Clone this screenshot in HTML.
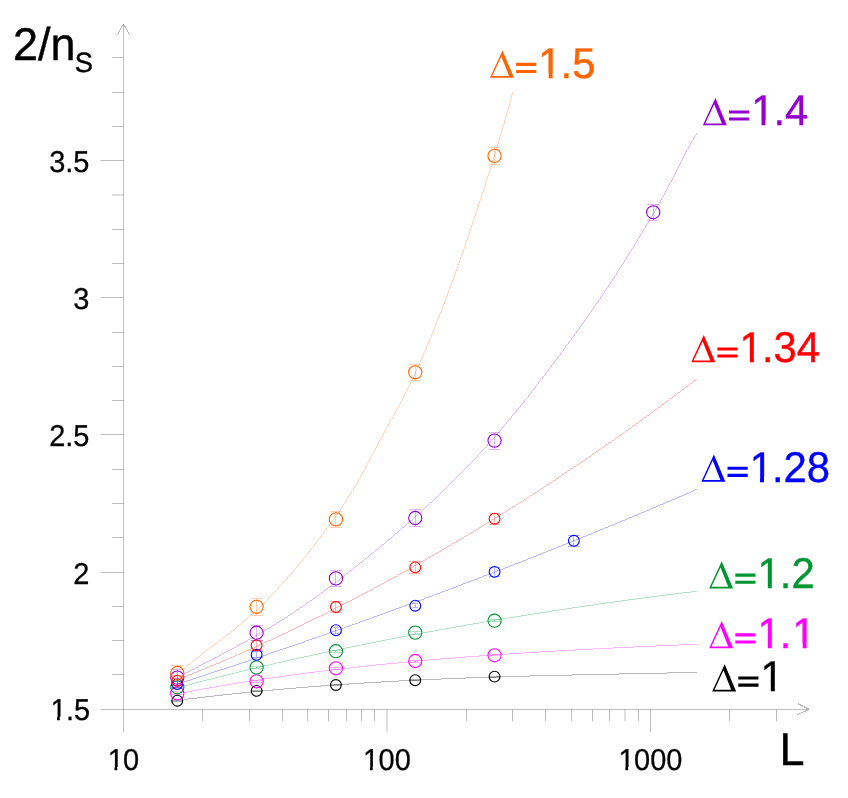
<!DOCTYPE html>
<html><head><meta charset="utf-8"><title>2/n_S vs L</title>
<style>
html,body{margin:0;padding:0;background:#fff;}
body{width:848px;height:798px;overflow:hidden;}
svg{display:block;will-change:transform;}
text{font-family:"Liberation Sans",sans-serif;text-rendering:geometricPrecision;}
</style></head><body>
<svg width="848" height="798" viewBox="0 0 848 798">
<rect width="848" height="798" fill="#fff"/>

<path stroke="#000" stroke-width="0.26" fill="none" d="M123.5,732 V24"/>
<path stroke="#000" stroke-width="1" stroke-opacity="0.28" fill="none" shape-rendering="crispEdges" d="M117.6,35 L122.7,25 M129.4,35 L124.3,25"/>
<rect x="123" y="24" width="1" height="1" fill="#000" fill-opacity="0.35"/>
<path stroke="#000" stroke-width="0.26" fill="none" d="M100.6,709.5 H808.6"/>
<path stroke="#000" stroke-width="1" stroke-opacity="0.28" fill="none" shape-rendering="crispEdges" d="M797.6,703.5 L809.4,709.5 M797.2,714.7 L808.6,709.6"/>
<path stroke="#000" stroke-width="0.26" fill="none" d="M112,674.5 H123.5"/>
<path stroke="#000" stroke-width="0.26" fill="none" d="M112,640.5 H123.5"/>
<path stroke="#000" stroke-width="0.26" fill="none" d="M112,606.5 H123.5"/>
<path stroke="#000" stroke-width="0.26" fill="none" d="M100.6,572.5 H123.5"/>
<path stroke="#000" stroke-width="0.26" fill="none" d="M112,537.5 H123.5"/>
<path stroke="#000" stroke-width="0.26" fill="none" d="M112,503.5 H123.5"/>
<path stroke="#000" stroke-width="0.26" fill="none" d="M112,469.5 H123.5"/>
<path stroke="#000" stroke-width="0.26" fill="none" d="M100.6,434.5 H123.5"/>
<path stroke="#000" stroke-width="0.26" fill="none" d="M112,400.5 H123.5"/>
<path stroke="#000" stroke-width="0.26" fill="none" d="M112,366.5 H123.5"/>
<path stroke="#000" stroke-width="0.26" fill="none" d="M112,332.5 H123.5"/>
<path stroke="#000" stroke-width="0.26" fill="none" d="M100.6,297.5 H123.5"/>
<path stroke="#000" stroke-width="0.26" fill="none" d="M112,263.5 H123.5"/>
<path stroke="#000" stroke-width="0.26" fill="none" d="M112,229.5 H123.5"/>
<path stroke="#000" stroke-width="0.26" fill="none" d="M112,195.0 H123.5"/>
<path stroke="#000" stroke-width="0.26" fill="none" d="M100.6,160.5 H123.5"/>
<path stroke="#000" stroke-width="0.26" fill="none" d="M112,126.5 H123.5"/>
<path stroke="#000" stroke-width="0.26" fill="none" d="M112,92.5 H123.5"/>
<path stroke="#000" stroke-width="0.26" fill="none" d="M112,57.5 H123.5"/>
<path stroke="#000" stroke-width="0.26" fill="none" d="M202.50,709.5 V721"/>
<path stroke="#000" stroke-width="0.26" fill="none" d="M249.50,709.5 V721"/>
<path stroke="#000" stroke-width="0.26" fill="none" d="M282.50,709.5 V721"/>
<path stroke="#000" stroke-width="0.26" fill="none" d="M307.50,709.5 V721"/>
<path stroke="#000" stroke-width="0.26" fill="none" d="M328.50,709.5 V721"/>
<path stroke="#000" stroke-width="0.26" fill="none" d="M346.50,709.5 V721"/>
<path stroke="#000" stroke-width="0.26" fill="none" d="M361.50,709.5 V721"/>
<path stroke="#000" stroke-width="0.26" fill="none" d="M374.50,709.5 V721"/>
<path stroke="#000" stroke-width="0.26" fill="none" d="M387.00,709.5 V732"/>
<path stroke="#000" stroke-width="0.26" fill="none" d="M466.50,709.5 V721"/>
<path stroke="#000" stroke-width="0.26" fill="none" d="M512.50,709.5 V721"/>
<path stroke="#000" stroke-width="0.26" fill="none" d="M545.50,709.5 V721"/>
<path stroke="#000" stroke-width="0.26" fill="none" d="M571.50,709.5 V721"/>
<path stroke="#000" stroke-width="0.26" fill="none" d="M592.50,709.5 V721"/>
<path stroke="#000" stroke-width="0.26" fill="none" d="M609.50,709.5 V721"/>
<path stroke="#000" stroke-width="0.26" fill="none" d="M625.00,709.5 V721"/>
<path stroke="#000" stroke-width="0.26" fill="none" d="M638.50,709.5 V721"/>
<path stroke="#000" stroke-width="0.26" fill="none" d="M650.50,709.5 V732"/>
<path stroke="#000" stroke-width="0.26" fill="none" d="M729.50,709.5 V721"/>
<path stroke="#000" stroke-width="0.26" fill="none" d="M776.50,709.5 V721"/>
<text transform="translate(89.50,171.50) scale(1,1.04)" font-size="29.0" text-anchor="end" fill="#000" stroke="#000" stroke-width="0.26">3.5</text>
<text transform="translate(89.50,308.50) scale(1,1.04)" font-size="29.0" text-anchor="end" fill="#000" stroke="#000" stroke-width="0.26">3</text>
<text transform="translate(89.50,445.50) scale(1,1.04)" font-size="29.0" text-anchor="end" fill="#000" stroke="#000" stroke-width="0.26">2.5</text>
<text transform="translate(89.50,583.50) scale(1,1.04)" font-size="29.0" text-anchor="end" fill="#000" stroke="#000" stroke-width="0.26">2</text>
<text transform="translate(89.50,720.00) scale(1,1.04)" font-size="29.0" text-anchor="end" fill="#000" stroke="#000" stroke-width="0.26"><tspan dx="0.64">1</tspan><tspan dx="-0.64">.5</tspan></text><rect x="50.99" y="716.54" width="6.03" height="5.16" fill="#fff"/><rect x="59.77" y="716.54" width="6.15" height="5.16" fill="#fff"/>
<text transform="translate(122.80,770.40) scale(1,1.04)" font-size="29.0" text-anchor="middle" fill="#000" stroke="#000" stroke-width="0.26"><tspan dx="0.64">1</tspan><tspan dx="-0.64">0</tspan></text><rect x="108.47" y="766.94" width="6.03" height="5.16" fill="#fff"/><rect x="117.26" y="766.94" width="6.15" height="5.16" fill="#fff"/>
<text transform="translate(386.30,770.40) scale(1,1.04)" font-size="29.0" text-anchor="middle" fill="#000" stroke="#000" stroke-width="0.26"><tspan dx="0.64">1</tspan><tspan dx="-0.64">00</tspan></text><rect x="363.91" y="766.94" width="6.03" height="5.16" fill="#fff"/><rect x="372.70" y="766.94" width="6.15" height="5.16" fill="#fff"/>
<text transform="translate(649.80,770.40) scale(1,1.04)" font-size="29.0" text-anchor="middle" fill="#000" stroke="#000" stroke-width="0.26"><tspan dx="0.64">1</tspan><tspan dx="-0.64">000</tspan></text><rect x="619.35" y="766.94" width="6.03" height="5.16" fill="#fff"/><rect x="628.14" y="766.94" width="6.15" height="5.16" fill="#fff"/>
<text transform="translate(13.00,60.20) scale(1,1.02)" font-size="45" text-anchor="start" fill="#000" stroke="#000" stroke-width="0.40">2/n<tspan font-size="27.3" dy="11.4" dx="-0.8">S</tspan></text>
<text transform="translate(779.60,765.10) scale(1,1.02)" font-size="45" text-anchor="start" fill="#000" stroke="#000" stroke-width="0.40">L</text>
<path d="M184.20,699.02 L188.15,698.54 L192.11,698.06 L196.06,697.58 L200.01,697.11 L203.97,696.65 L207.92,696.20 L211.88,695.74 L215.84,695.30 L219.80,694.86 L223.75,694.42 L227.71,694.00 L231.67,693.57 L235.63,693.16 L239.59,692.74 L243.55,692.34 L247.52,691.94 L251.48,691.54 L255.44,691.15 L259.40,690.77 L263.37,690.39 L267.33,690.02 L271.30,689.65 L275.26,689.29 L279.23,688.93 L283.20,688.58 L287.16,688.23 L291.13,687.89 L295.10,687.56 L299.07,687.22 L303.04,686.90 L307.00,686.58 L310.97,686.26 L314.94,685.95 L318.91,685.65 L322.88,685.35 L326.86,685.05 L330.83,684.76 L334.80,684.48 L338.77,684.20 L342.74,683.92 L346.72,683.65 L350.69,683.39 L354.66,683.13 L358.64,682.87 L362.61,682.62 L366.59,682.37 L370.56,682.13 L374.53,681.89 L378.51,681.65 L382.49,681.42 L386.46,681.20 L390.44,680.98 L394.41,680.76 L398.39,680.55 L402.37,680.34 L406.34,680.14 L410.32,679.94 L414.30,679.74 L418.27,679.55 L422.25,679.36 L426.23,679.18 L430.21,679.00 L434.19,678.82 L438.16,678.65 L442.14,678.48 L446.12,678.31 L450.10,678.15 L454.08,677.99 L458.06,677.83 L462.04,677.68 L466.02,677.53 L469.99,677.38 L473.97,677.24 L477.95,677.10 L481.93,676.96 L485.91,676.83 L489.89,676.70 L493.87,676.57 L497.85,676.44 L501.83,676.32 L505.81,676.20 L509.79,676.08 L513.77,675.97 L517.75,675.85 L521.73,675.74 L525.72,675.63 L529.70,675.53 L533.68,675.42 L537.66,675.32 L541.64,675.22 L545.62,675.12 L549.60,675.02 L553.58,674.92 L557.56,674.83 L561.54,674.74 L565.52,674.65 L569.50,674.55 L573.49,674.47 L577.47,674.38 L581.45,674.29 L585.43,674.21 L589.41,674.12 L593.39,674.04 L597.37,673.95 L601.35,673.87 L605.33,673.79 L609.32,673.71 L613.30,673.63 L617.28,673.55 L621.26,673.46 L625.24,673.38 L629.22,673.30 L633.20,673.22 L637.18,673.14 L641.17,673.06 L645.15,672.98 L649.13,672.90 L653.11,672.81 L657.09,672.73 L661.07,672.64 L665.05,672.56 L669.03,672.47 L673.01,672.39 L677.00,672.30 L680.98,672.21 L684.96,672.12 L688.94,672.02 L692.92,671.93 L696.90,671.83 L696.90,672.83 L692.92,672.93 L688.94,673.02 L684.96,673.12 L680.98,673.21 L677.00,673.30 L673.01,673.39 L669.03,673.47 L665.05,673.56 L661.07,673.64 L657.09,673.73 L653.11,673.81 L649.13,673.90 L645.15,673.98 L641.17,674.06 L637.18,674.14 L633.20,674.22 L629.22,674.30 L625.24,674.38 L621.26,674.46 L617.28,674.55 L613.30,674.63 L609.32,674.71 L605.33,674.79 L601.35,674.87 L597.37,674.95 L593.39,675.04 L589.41,675.12 L585.43,675.21 L581.45,675.29 L577.47,675.38 L573.49,675.47 L569.50,675.55 L565.52,675.65 L561.54,675.74 L557.56,675.83 L553.58,675.92 L549.60,676.02 L545.62,676.12 L541.64,676.22 L537.66,676.32 L533.68,676.42 L529.70,676.53 L525.72,676.63 L521.73,676.74 L517.75,676.85 L513.77,676.97 L509.79,677.08 L505.81,677.20 L501.83,677.32 L497.85,677.44 L493.87,677.57 L489.89,677.70 L485.91,677.83 L481.93,677.96 L477.95,678.10 L473.97,678.24 L469.99,678.38 L466.02,678.53 L462.04,678.68 L458.06,678.83 L454.08,678.99 L450.10,679.15 L446.12,679.31 L442.14,679.48 L438.16,679.65 L434.19,679.82 L430.21,680.00 L426.23,680.18 L422.25,680.36 L418.27,680.55 L414.30,680.74 L410.32,680.94 L406.34,681.14 L402.37,681.34 L398.39,681.55 L394.41,681.76 L390.44,681.98 L386.46,682.20 L382.49,682.42 L378.51,682.65 L374.53,682.89 L370.56,683.13 L366.59,683.37 L362.61,683.62 L358.64,683.87 L354.66,684.13 L350.69,684.39 L346.72,684.65 L342.74,684.92 L338.77,685.20 L334.80,685.48 L330.83,685.76 L326.86,686.05 L322.88,686.35 L318.91,686.65 L314.94,686.95 L310.97,687.26 L307.00,687.58 L303.04,687.90 L299.07,688.22 L295.10,688.56 L291.13,688.89 L287.16,689.23 L283.20,689.58 L279.23,689.93 L275.26,690.29 L271.30,690.65 L267.33,691.02 L263.37,691.39 L259.40,691.77 L255.44,692.15 L251.48,692.54 L247.52,692.94 L243.55,693.34 L239.59,693.74 L235.63,694.16 L231.67,694.57 L227.71,695.00 L223.75,695.42 L219.80,695.86 L215.84,696.30 L211.88,696.74 L207.92,697.20 L203.97,697.65 L200.01,698.11 L196.06,698.58 L192.11,699.06 L188.15,699.54 L184.20,700.02Z" fill="#000000" fill-opacity="0.28" stroke="none" shape-rendering="crispEdges"/>
<path d="M184.20,692.04 L188.13,691.30 L192.05,690.56 L195.98,689.83 L199.91,689.11 L203.84,688.40 L207.78,687.70 L211.71,687.01 L215.65,686.32 L219.59,685.64 L223.53,684.97 L227.47,684.31 L231.41,683.65 L235.35,683.01 L239.29,682.37 L243.24,681.74 L247.19,681.11 L251.13,680.50 L255.08,679.89 L259.03,679.29 L262.99,678.69 L266.94,678.11 L270.89,677.53 L274.85,676.95 L278.80,676.39 L282.76,675.83 L286.71,675.28 L290.67,674.73 L294.63,674.20 L298.59,673.66 L302.55,673.14 L306.52,672.62 L310.48,672.11 L314.44,671.61 L318.41,671.11 L322.37,670.62 L326.34,670.13 L330.30,669.65 L334.27,669.18 L338.24,668.71 L342.21,668.25 L346.18,667.79 L350.15,667.34 L354.12,666.90 L358.09,666.46 L362.06,666.03 L366.04,665.60 L370.01,665.18 L373.98,664.76 L377.96,664.35 L381.93,663.94 L385.91,663.54 L389.89,663.15 L393.86,662.76 L397.84,662.38 L401.82,662.00 L405.80,661.62 L409.77,661.25 L413.75,660.89 L417.73,660.53 L421.71,660.17 L425.69,659.82 L429.67,659.47 L433.65,659.13 L437.64,658.79 L441.62,658.46 L445.60,658.13 L449.58,657.81 L453.56,657.49 L457.55,657.17 L461.53,656.86 L465.52,656.55 L469.50,656.25 L473.48,655.95 L477.47,655.65 L481.45,655.36 L485.44,655.07 L489.42,654.79 L493.41,654.51 L497.40,654.23 L501.38,653.95 L505.37,653.68 L509.36,653.42 L513.34,653.15 L517.33,652.89 L521.32,652.64 L525.30,652.38 L529.29,652.13 L533.28,651.88 L537.27,651.64 L541.26,651.40 L545.25,651.16 L549.23,650.92 L553.22,650.69 L557.21,650.46 L561.20,650.23 L565.19,650.01 L569.18,649.78 L573.17,649.56 L577.16,649.35 L581.15,649.13 L585.14,648.92 L589.13,648.71 L593.12,648.50 L597.11,648.30 L601.10,648.09 L605.09,647.89 L609.08,647.69 L613.07,647.50 L617.06,647.30 L621.06,647.11 L625.05,646.92 L629.04,646.73 L633.03,646.54 L637.02,646.36 L641.01,646.18 L645.00,645.99 L649.00,645.81 L652.99,645.64 L656.98,645.46 L660.97,645.28 L664.96,645.11 L668.95,644.94 L672.95,644.77 L676.94,644.60 L680.93,644.43 L684.92,644.27 L688.92,644.10 L692.91,643.94 L696.90,643.77 L696.90,644.77 L692.91,644.94 L688.92,645.10 L684.92,645.27 L680.93,645.43 L676.94,645.60 L672.95,645.77 L668.95,645.94 L664.96,646.11 L660.97,646.28 L656.98,646.46 L652.99,646.64 L649.00,646.81 L645.00,646.99 L641.01,647.18 L637.02,647.36 L633.03,647.54 L629.04,647.73 L625.05,647.92 L621.06,648.11 L617.06,648.30 L613.07,648.50 L609.08,648.69 L605.09,648.89 L601.10,649.09 L597.11,649.30 L593.12,649.50 L589.13,649.71 L585.14,649.92 L581.15,650.13 L577.16,650.35 L573.17,650.56 L569.18,650.78 L565.19,651.01 L561.20,651.23 L557.21,651.46 L553.22,651.69 L549.23,651.92 L545.25,652.16 L541.26,652.40 L537.27,652.64 L533.28,652.88 L529.29,653.13 L525.30,653.38 L521.32,653.64 L517.33,653.89 L513.34,654.15 L509.36,654.42 L505.37,654.68 L501.38,654.95 L497.40,655.23 L493.41,655.51 L489.42,655.79 L485.44,656.07 L481.45,656.36 L477.47,656.65 L473.48,656.95 L469.50,657.25 L465.52,657.55 L461.53,657.86 L457.55,658.17 L453.56,658.49 L449.58,658.81 L445.60,659.13 L441.62,659.46 L437.64,659.79 L433.65,660.13 L429.67,660.47 L425.69,660.82 L421.71,661.17 L417.73,661.53 L413.75,661.89 L409.77,662.25 L405.80,662.62 L401.82,663.00 L397.84,663.38 L393.86,663.76 L389.89,664.15 L385.91,664.54 L381.93,664.94 L377.96,665.35 L373.98,665.76 L370.01,666.18 L366.04,666.60 L362.06,667.03 L358.09,667.46 L354.12,667.90 L350.15,668.34 L346.18,668.79 L342.21,669.25 L338.24,669.71 L334.27,670.18 L330.30,670.65 L326.34,671.13 L322.37,671.62 L318.41,672.11 L314.44,672.61 L310.48,673.11 L306.52,673.62 L302.55,674.14 L298.59,674.66 L294.63,675.20 L290.67,675.73 L286.71,676.28 L282.76,676.83 L278.80,677.39 L274.85,677.95 L270.89,678.53 L266.94,679.11 L262.99,679.69 L259.03,680.29 L255.08,680.89 L251.13,681.50 L247.19,682.11 L243.24,682.74 L239.29,683.37 L235.35,684.01 L231.41,684.65 L227.47,685.31 L223.53,685.97 L219.59,686.64 L215.65,687.32 L211.71,688.01 L207.78,688.70 L203.84,689.40 L199.91,690.11 L195.98,690.83 L192.05,691.56 L188.13,692.30 L184.20,693.04Z" fill="#ff00ff" fill-opacity="0.28" stroke="none" shape-rendering="crispEdges"/>
<path d="M184.20,685.45 L188.05,684.43 L191.90,683.42 L195.75,682.41 L199.61,681.41 L203.47,680.41 L207.32,679.42 L211.18,678.44 L215.04,677.46 L218.91,676.48 L222.77,675.52 L226.64,674.56 L230.50,673.60 L234.37,672.65 L238.24,671.71 L242.11,670.77 L245.98,669.83 L249.86,668.90 L253.73,667.98 L257.61,667.06 L261.48,666.15 L265.36,665.25 L269.24,664.34 L273.12,663.45 L277.00,662.56 L280.89,661.67 L284.77,660.79 L288.66,659.91 L292.54,659.04 L296.43,658.17 L300.32,657.31 L304.21,656.46 L308.10,655.60 L311.99,654.76 L315.88,653.91 L319.78,653.07 L323.67,652.24 L327.57,651.41 L331.47,650.59 L335.36,649.77 L339.26,648.95 L343.16,648.14 L347.06,647.33 L350.96,646.53 L354.87,645.73 L358.77,644.94 L362.67,644.15 L366.58,643.36 L370.48,642.58 L374.39,641.80 L378.30,641.03 L382.20,640.26 L386.11,639.49 L390.02,638.73 L393.93,637.97 L397.84,637.22 L401.76,636.47 L405.67,635.73 L409.58,634.99 L413.50,634.25 L417.41,633.51 L421.33,632.78 L425.24,632.06 L429.16,631.33 L433.08,630.62 L437.00,629.90 L440.91,629.19 L444.83,628.48 L448.75,627.78 L452.68,627.08 L456.60,626.38 L460.52,625.69 L464.44,625.00 L468.37,624.31 L472.29,623.63 L476.21,622.95 L480.14,622.28 L484.07,621.61 L487.99,620.94 L491.92,620.28 L495.85,619.62 L499.78,618.96 L503.71,618.30 L507.63,617.65 L511.56,617.01 L515.50,616.37 L519.43,615.73 L523.36,615.09 L527.29,614.46 L531.22,613.83 L535.16,613.20 L539.09,612.58 L543.03,611.96 L546.96,611.35 L550.90,610.74 L554.83,610.13 L558.77,609.53 L562.71,608.93 L566.65,608.33 L570.59,607.74 L574.53,607.15 L578.46,606.56 L582.40,605.98 L586.35,605.40 L590.29,604.83 L594.23,604.26 L598.17,603.69 L602.11,603.12 L606.06,602.56 L610.00,602.01 L613.95,601.45 L617.89,600.90 L621.84,600.36 L625.78,599.82 L629.73,599.28 L633.68,598.75 L637.62,598.22 L641.57,597.69 L645.52,597.17 L649.47,596.65 L653.42,596.14 L657.37,595.63 L661.32,595.12 L665.27,594.62 L669.22,594.12 L673.18,593.63 L677.13,593.14 L681.08,592.65 L685.04,592.17 L688.99,591.69 L692.94,591.22 L696.90,590.75 L696.90,591.75 L692.94,592.22 L688.99,592.69 L685.04,593.17 L681.08,593.65 L677.13,594.14 L673.18,594.63 L669.22,595.12 L665.27,595.62 L661.32,596.12 L657.37,596.63 L653.42,597.14 L649.47,597.65 L645.52,598.17 L641.57,598.69 L637.62,599.22 L633.68,599.75 L629.73,600.28 L625.78,600.82 L621.84,601.36 L617.89,601.90 L613.95,602.45 L610.00,603.01 L606.06,603.56 L602.11,604.12 L598.17,604.69 L594.23,605.26 L590.29,605.83 L586.35,606.40 L582.40,606.98 L578.46,607.56 L574.53,608.15 L570.59,608.74 L566.65,609.33 L562.71,609.93 L558.77,610.53 L554.83,611.13 L550.90,611.74 L546.96,612.35 L543.03,612.96 L539.09,613.58 L535.16,614.20 L531.22,614.83 L527.29,615.46 L523.36,616.09 L519.43,616.73 L515.50,617.37 L511.56,618.01 L507.63,618.65 L503.71,619.30 L499.78,619.96 L495.85,620.62 L491.92,621.28 L487.99,621.94 L484.07,622.61 L480.14,623.28 L476.21,623.95 L472.29,624.63 L468.37,625.31 L464.44,626.00 L460.52,626.69 L456.60,627.38 L452.68,628.08 L448.75,628.78 L444.83,629.48 L440.91,630.19 L437.00,630.90 L433.08,631.62 L429.16,632.33 L425.24,633.06 L421.33,633.78 L417.41,634.51 L413.50,635.25 L409.58,635.99 L405.67,636.73 L401.76,637.47 L397.84,638.22 L393.93,638.97 L390.02,639.73 L386.11,640.49 L382.20,641.26 L378.30,642.03 L374.39,642.80 L370.48,643.58 L366.58,644.36 L362.67,645.15 L358.77,645.94 L354.87,646.73 L350.96,647.53 L347.06,648.33 L343.16,649.14 L339.26,649.95 L335.36,650.77 L331.47,651.59 L327.57,652.41 L323.67,653.24 L319.78,654.07 L315.88,654.91 L311.99,655.76 L308.10,656.60 L304.21,657.46 L300.32,658.31 L296.43,659.17 L292.54,660.04 L288.66,660.91 L284.77,661.79 L280.89,662.67 L277.00,663.56 L273.12,664.45 L269.24,665.34 L265.36,666.25 L261.48,667.15 L257.61,668.06 L253.73,668.98 L249.86,669.90 L245.98,670.83 L242.11,671.77 L238.24,672.71 L234.37,673.65 L230.50,674.60 L226.64,675.56 L222.77,676.52 L218.91,677.48 L215.04,678.46 L211.18,679.44 L207.32,680.42 L203.47,681.41 L199.61,682.41 L195.75,683.41 L191.90,684.42 L188.05,685.43 L184.20,686.45Z" fill="#009632" fill-opacity="0.28" stroke="none" shape-rendering="crispEdges"/>
<path d="M184.20,681.27 L188.01,680.05 L191.81,678.83 L195.62,677.60 L199.42,676.37 L203.22,675.13 L207.03,673.90 L210.83,672.66 L214.63,671.42 L218.43,670.18 L222.23,668.93 L226.02,667.68 L229.82,666.43 L233.62,665.17 L237.41,663.92 L241.20,662.66 L245.00,661.39 L248.79,660.13 L252.58,658.86 L256.37,657.59 L260.16,656.31 L263.95,655.04 L267.74,653.76 L271.52,652.48 L275.31,651.19 L279.10,649.91 L282.88,648.62 L286.66,647.32 L290.44,646.03 L294.23,644.73 L298.01,643.43 L301.79,642.12 L305.56,640.82 L309.34,639.51 L313.12,638.20 L316.89,636.88 L320.67,635.57 L324.44,634.25 L328.22,632.93 L331.99,631.60 L335.76,630.27 L339.53,628.94 L343.30,627.61 L347.07,626.27 L350.83,624.94 L354.60,623.59 L358.36,622.25 L362.13,620.90 L365.89,619.56 L369.65,618.20 L373.42,616.85 L377.18,615.49 L380.94,614.13 L384.69,612.77 L388.45,611.41 L392.21,610.04 L395.96,608.67 L399.72,607.30 L403.47,605.92 L407.23,604.54 L410.98,603.16 L414.73,601.78 L418.48,600.39 L422.23,599.00 L425.98,597.61 L429.72,596.22 L433.47,594.82 L437.21,593.42 L440.96,592.02 L444.70,590.61 L448.44,589.21 L452.18,587.80 L455.92,586.38 L459.66,584.97 L463.40,583.55 L467.14,582.13 L470.87,580.71 L474.61,579.28 L478.34,577.85 L482.07,576.42 L485.81,574.99 L489.54,573.55 L493.27,572.11 L497.00,570.67 L500.72,569.23 L504.45,567.78 L508.18,566.33 L511.90,564.88 L515.63,563.43 L519.35,561.97 L523.07,560.51 L526.79,559.05 L530.51,557.58 L534.23,556.11 L537.95,554.64 L541.66,553.17 L545.38,551.69 L549.09,550.22 L552.81,548.74 L556.52,547.25 L560.23,545.77 L563.94,544.28 L567.65,542.79 L571.36,541.29 L575.07,539.80 L578.77,538.30 L582.48,536.80 L586.18,535.29 L589.88,533.78 L593.59,532.27 L597.29,530.76 L600.99,529.25 L604.69,527.73 L608.38,526.21 L612.08,524.69 L615.78,523.16 L619.47,521.63 L623.16,520.10 L626.86,518.57 L630.55,517.04 L634.24,515.50 L637.93,513.96 L641.61,512.41 L645.30,510.87 L648.99,509.32 L652.67,507.77 L656.35,506.21 L660.04,504.66 L663.72,503.10 L667.40,501.54 L671.08,499.97 L674.76,498.41 L678.43,496.84 L682.11,495.26 L685.78,493.69 L689.46,492.11 L693.13,490.53 L696.80,488.95 L696.80,489.95 L693.13,491.53 L689.46,493.11 L685.78,494.69 L682.11,496.26 L678.43,497.84 L674.76,499.41 L671.08,500.97 L667.40,502.54 L663.72,504.10 L660.04,505.66 L656.35,507.21 L652.67,508.77 L648.99,510.32 L645.30,511.87 L641.61,513.41 L637.93,514.96 L634.24,516.50 L630.55,518.04 L626.86,519.57 L623.16,521.10 L619.47,522.63 L615.78,524.16 L612.08,525.69 L608.38,527.21 L604.69,528.73 L600.99,530.25 L597.29,531.76 L593.59,533.27 L589.88,534.78 L586.18,536.29 L582.48,537.80 L578.77,539.30 L575.07,540.80 L571.36,542.29 L567.65,543.79 L563.94,545.28 L560.23,546.77 L556.52,548.25 L552.81,549.74 L549.09,551.22 L545.38,552.69 L541.66,554.17 L537.95,555.64 L534.23,557.11 L530.51,558.58 L526.79,560.05 L523.07,561.51 L519.35,562.97 L515.63,564.43 L511.90,565.88 L508.18,567.33 L504.45,568.78 L500.72,570.23 L497.00,571.67 L493.27,573.11 L489.54,574.55 L485.81,575.99 L482.07,577.42 L478.34,578.85 L474.61,580.28 L470.87,581.71 L467.14,583.13 L463.40,584.55 L459.66,585.97 L455.92,587.38 L452.18,588.80 L448.44,590.21 L444.70,591.61 L440.96,593.02 L437.21,594.42 L433.47,595.82 L429.72,597.22 L425.98,598.61 L422.23,600.00 L418.48,601.39 L414.73,602.78 L410.98,604.16 L407.23,605.54 L403.47,606.92 L399.72,608.30 L395.96,609.67 L392.21,611.04 L388.45,612.41 L384.69,613.77 L380.94,615.13 L377.18,616.49 L373.42,617.85 L369.65,619.20 L365.89,620.56 L362.13,621.90 L358.36,623.25 L354.60,624.59 L350.83,625.94 L347.07,627.27 L343.30,628.61 L339.53,629.94 L335.76,631.27 L331.99,632.60 L328.22,633.93 L324.44,635.25 L320.67,636.57 L316.89,637.88 L313.12,639.20 L309.34,640.51 L305.56,641.82 L301.79,643.12 L298.01,644.43 L294.23,645.73 L290.44,647.03 L286.66,648.32 L282.88,649.62 L279.10,650.91 L275.31,652.19 L271.52,653.48 L267.74,654.76 L263.95,656.04 L260.16,657.31 L256.37,658.59 L252.58,659.86 L248.79,661.13 L245.00,662.39 L241.20,663.66 L237.41,664.92 L233.62,666.17 L229.82,667.43 L226.02,668.68 L222.23,669.93 L218.43,671.18 L214.63,672.42 L210.83,673.66 L207.03,674.90 L203.22,676.13 L199.42,677.37 L195.62,678.60 L191.81,679.83 L188.01,681.05 L184.20,682.27Z" fill="#0000ff" fill-opacity="0.28" stroke="none" shape-rendering="crispEdges"/>
<path d="M184.20,676.54 L187.91,675.08 L191.62,673.60 L195.33,672.11 L199.03,670.62 L202.72,669.11 L206.42,667.60 L210.10,666.07 L213.79,664.54 L217.47,663.00 L221.15,661.44 L224.82,659.88 L228.49,658.31 L232.16,656.73 L235.82,655.14 L239.47,653.54 L243.13,651.94 L246.78,650.32 L250.42,648.70 L254.07,647.06 L257.70,645.42 L261.34,643.77 L264.97,642.12 L268.60,640.45 L272.22,638.77 L275.84,637.09 L279.45,635.40 L283.07,633.70 L286.67,631.99 L290.28,630.28 L293.88,628.56 L297.47,626.83 L301.07,625.09 L304.66,623.34 L308.24,621.59 L311.82,619.83 L315.40,618.06 L318.98,616.28 L322.55,614.50 L326.11,612.71 L329.68,610.91 L333.24,609.10 L336.79,607.29 L340.35,605.47 L343.90,603.65 L347.44,601.81 L350.98,599.97 L354.52,598.12 L358.05,596.27 L361.59,594.41 L365.11,592.54 L368.64,590.66 L372.16,588.78 L375.67,586.89 L379.19,585.00 L382.69,583.10 L386.20,581.19 L389.70,579.27 L393.20,577.35 L396.70,575.42 L400.19,573.49 L403.68,571.55 L407.16,569.60 L410.64,567.65 L414.12,565.69 L417.59,563.72 L421.06,561.75 L424.53,559.77 L427.99,557.79 L431.45,555.80 L434.91,553.80 L438.36,551.80 L441.81,549.79 L445.26,547.78 L448.70,545.76 L452.14,543.73 L455.57,541.70 L459.00,539.66 L462.43,537.62 L465.86,535.57 L469.28,533.51 L472.70,531.45 L476.11,529.38 L479.52,527.31 L482.93,525.23 L486.33,523.15 L489.73,521.06 L493.13,518.96 L496.52,516.86 L499.91,514.75 L503.30,512.64 L506.68,510.52 L510.06,508.40 L513.44,506.27 L516.81,504.13 L520.18,501.99 L523.54,499.85 L526.91,497.69 L530.26,495.54 L533.62,493.37 L536.97,491.21 L540.32,489.03 L543.66,486.85 L547.00,484.67 L550.34,482.48 L553.67,480.29 L557.00,478.09 L560.33,475.88 L563.65,473.67 L566.97,471.45 L570.29,469.23 L573.60,467.01 L576.91,464.78 L580.22,462.54 L583.52,460.30 L586.82,458.05 L590.11,455.80 L593.40,453.54 L596.69,451.27 L599.98,449.01 L603.26,446.73 L606.53,444.45 L609.81,442.17 L613.08,439.88 L616.34,437.59 L619.61,435.29 L622.86,432.98 L626.12,430.67 L629.37,428.36 L632.62,426.04 L635.86,423.71 L639.10,421.38 L642.34,419.05 L645.57,416.71 L648.80,414.36 L652.03,412.01 L655.25,409.65 L658.47,407.29 L661.68,404.93 L664.90,402.56 L668.10,400.18 L671.31,397.80 L674.51,395.42 L677.70,393.02 L680.90,390.63 L684.08,388.23 L687.27,385.82 L690.45,383.41 L693.63,380.99 L696.80,378.57 L696.80,379.57 L693.63,381.99 L690.45,384.41 L687.27,386.82 L684.08,389.23 L680.90,391.63 L677.70,394.02 L674.51,396.42 L671.31,398.80 L668.10,401.18 L664.90,403.56 L661.68,405.93 L658.47,408.29 L655.25,410.65 L652.03,413.01 L648.80,415.36 L645.57,417.71 L642.34,420.05 L639.10,422.38 L635.86,424.71 L632.62,427.04 L629.37,429.36 L626.12,431.67 L622.86,433.98 L619.61,436.29 L616.34,438.59 L613.08,440.88 L609.81,443.17 L606.53,445.45 L603.26,447.73 L599.98,450.01 L596.69,452.27 L593.40,454.54 L590.11,456.80 L586.82,459.05 L583.52,461.30 L580.22,463.54 L576.91,465.78 L573.60,468.01 L570.29,470.23 L566.97,472.45 L563.65,474.67 L560.33,476.88 L557.00,479.09 L553.67,481.29 L550.34,483.48 L547.00,485.67 L543.66,487.85 L540.32,490.03 L536.97,492.21 L533.62,494.37 L530.26,496.54 L526.91,498.69 L523.54,500.85 L520.18,502.99 L516.81,505.13 L513.44,507.27 L510.06,509.40 L506.68,511.52 L503.30,513.64 L499.91,515.75 L496.52,517.86 L493.13,519.96 L489.73,522.06 L486.33,524.15 L482.93,526.23 L479.52,528.31 L476.11,530.38 L472.70,532.45 L469.28,534.51 L465.86,536.57 L462.43,538.62 L459.00,540.66 L455.57,542.70 L452.14,544.73 L448.70,546.76 L445.26,548.78 L441.81,550.79 L438.36,552.80 L434.91,554.80 L431.45,556.80 L427.99,558.79 L424.53,560.77 L421.06,562.75 L417.59,564.72 L414.12,566.69 L410.64,568.65 L407.16,570.60 L403.68,572.55 L400.19,574.49 L396.70,576.42 L393.20,578.35 L389.70,580.27 L386.20,582.19 L382.69,584.10 L379.19,586.00 L375.67,587.89 L372.16,589.78 L368.64,591.66 L365.11,593.54 L361.59,595.41 L358.05,597.27 L354.52,599.12 L350.98,600.97 L347.44,602.81 L343.90,604.65 L340.35,606.47 L336.79,608.29 L333.24,610.10 L329.68,611.91 L326.11,613.71 L322.55,615.50 L318.98,617.28 L315.40,619.06 L311.82,620.83 L308.24,622.59 L304.66,624.34 L301.07,626.09 L297.47,627.83 L293.88,629.56 L290.28,631.28 L286.67,632.99 L283.07,634.70 L279.45,636.40 L275.84,638.09 L272.22,639.77 L268.60,641.45 L264.97,643.12 L261.34,644.77 L257.70,646.42 L254.07,648.06 L250.42,649.70 L246.78,651.32 L243.13,652.94 L239.47,654.54 L235.82,656.14 L232.16,657.73 L228.49,659.31 L224.82,660.88 L221.15,662.44 L217.47,664.00 L213.79,665.54 L210.10,667.07 L206.42,668.60 L202.72,670.11 L199.03,671.62 L195.33,673.11 L191.62,674.60 L187.91,676.08 L184.20,677.54Z" fill="#ff0000" fill-opacity="0.28" stroke="none" shape-rendering="crispEdges"/>
<path d="M184.20,673.59 L187.72,671.70 L191.24,669.83 L194.78,667.96 L198.31,666.10 L201.85,664.25 L205.40,662.41 L208.94,660.57 L212.48,658.73 L216.03,656.88 L219.57,655.03 L223.11,653.18 L226.64,651.32 L230.17,649.45 L233.69,647.56 L237.21,645.67 L240.72,643.76 L244.22,641.84 L247.71,639.90 L251.19,637.94 L254.67,635.97 L258.13,633.98 L261.58,631.97 L265.02,629.94 L268.45,627.89 L271.87,625.82 L275.27,623.73 L278.66,621.62 L282.04,619.49 L285.40,617.34 L288.76,615.17 L292.10,612.97 L295.42,610.76 L298.74,608.53 L302.04,606.28 L305.32,604.01 L308.60,601.73 L311.86,599.42 L315.11,597.10 L318.35,594.76 L321.58,592.41 L324.79,590.04 L328.00,587.65 L331.19,585.26 L334.38,582.85 L337.55,580.42 L340.72,577.99 L343.88,575.54 L347.03,573.08 L350.17,570.62 L353.30,568.14 L356.43,565.66 L359.55,563.17 L362.67,560.66 L365.77,558.15 L368.87,555.64 L371.97,553.11 L375.06,550.58 L378.14,548.04 L381.22,545.49 L384.29,542.93 L387.35,540.37 L390.40,537.80 L393.45,535.22 L396.50,532.63 L399.53,530.03 L402.56,527.43 L405.58,524.81 L408.59,522.19 L411.59,519.55 L414.58,516.91 L417.57,514.25 L420.54,511.59 L423.51,508.91 L426.46,506.22 L429.40,503.52 L432.33,500.80 L435.25,498.07 L438.15,495.33 L441.05,492.58 L443.93,489.81 L446.79,487.03 L449.65,484.24 L452.49,481.43 L454.82,479.11 L457.64,476.28 L460.44,473.43 L463.22,470.57 L466.00,467.70 L468.76,464.81 L471.51,461.91 L474.24,459.00 L476.96,456.07 L479.66,453.13 L482.36,450.18 L485.04,447.22 L487.70,444.24 L490.35,441.26 L492.99,438.26 L495.61,435.25 L498.23,432.22 L500.82,429.19 L503.41,426.15 L505.98,423.09 L508.55,420.03 L511.10,416.95 L513.63,413.87 L516.16,410.77 L518.68,407.67 L521.18,404.56 L523.68,401.44 L526.16,398.31 L528.63,395.18 L531.10,392.03 L533.55,388.88 L536.00,385.73 L538.44,382.56 L540.87,379.39 L543.29,376.22 L545.71,373.04 L548.12,369.85 L550.52,366.66 L552.92,363.46 L555.31,360.26 L557.69,357.06 L560.07,353.85 L562.44,350.64 L564.81,347.42 L567.18,344.20 L569.53,340.98 L571.89,337.75 L574.23,334.52 L576.57,331.28 L578.91,328.04 L581.23,324.79 L583.55,321.54 L585.87,318.28 L588.17,315.02 L590.47,311.75 L592.75,308.48 L595.03,305.20 L597.30,301.91 L599.56,298.61 L601.80,295.31 L604.04,292.00 L606.26,288.68 L608.47,285.35 L610.67,282.02 L612.86,278.68 L615.03,275.33 L617.19,271.97 L619.35,268.60 L621.49,265.23 L623.62,261.85 L625.75,258.47 L627.87,255.09 L629.97,251.69 L632.08,248.30 L634.17,244.90 L636.26,241.49 L638.34,238.08 L640.41,234.66 L642.47,231.24 L644.52,227.82 L646.57,224.38 L648.60,220.95 L650.62,217.50 L652.63,214.05 L654.62,210.59 L656.60,207.12 L658.57,203.64 L660.52,200.15 L662.45,196.66 L664.36,193.15 L666.26,189.64 L668.13,186.11 L669.99,182.57 L671.84,179.03 L673.67,175.48 L675.50,171.93 L677.31,168.37 L679.13,164.81 L680.94,161.26 L682.77,157.70 L684.60,154.15 L686.45,150.61 L688.32,147.09 L690.23,143.58 L692.19,140.10 L694.20,136.65 L696.30,133.25 L697.30,133.25 L695.20,136.65 L693.19,140.10 L691.23,143.58 L689.32,147.09 L687.45,150.61 L685.60,154.15 L683.77,157.70 L681.94,161.26 L680.13,164.81 L678.31,168.37 L676.50,171.93 L674.67,175.48 L672.84,179.03 L670.99,182.57 L669.13,186.11 L667.26,189.64 L665.36,193.15 L663.45,196.66 L661.52,200.15 L659.57,203.64 L657.60,207.12 L655.62,210.59 L653.63,214.05 L651.62,217.50 L649.60,220.95 L647.57,224.38 L645.52,227.82 L643.47,231.24 L641.41,234.66 L639.34,238.08 L637.26,241.49 L635.17,244.90 L633.08,248.30 L630.97,251.69 L628.87,255.09 L626.75,258.47 L624.62,261.85 L622.49,265.23 L620.35,268.60 L618.19,271.97 L616.03,275.33 L613.86,278.68 L611.67,282.02 L609.47,285.35 L607.26,288.68 L605.04,292.00 L602.80,295.31 L600.56,298.61 L598.30,301.91 L596.03,305.20 L593.75,308.48 L591.47,311.75 L589.17,315.02 L586.87,318.28 L584.55,321.54 L582.23,324.79 L579.91,328.04 L577.57,331.28 L575.23,334.52 L572.89,337.75 L570.53,340.98 L568.18,344.20 L565.81,347.42 L563.44,350.64 L561.07,353.85 L558.69,357.06 L556.31,360.26 L553.92,363.46 L551.52,366.66 L549.12,369.85 L546.71,373.04 L544.29,376.22 L541.87,379.39 L539.44,382.56 L537.00,385.73 L534.55,388.88 L532.10,392.03 L529.63,395.18 L527.16,398.31 L524.68,401.44 L522.18,404.56 L519.68,407.67 L517.16,410.77 L514.63,413.87 L512.10,416.95 L509.55,420.03 L506.98,423.09 L504.41,426.15 L501.82,429.19 L499.23,432.22 L496.61,435.25 L493.99,438.26 L491.35,441.26 L488.70,444.24 L486.04,447.22 L483.36,450.18 L480.66,453.13 L477.96,456.07 L475.24,459.00 L472.51,461.91 L469.76,464.81 L467.00,467.70 L464.22,470.57 L461.44,473.43 L458.64,476.28 L455.82,479.11 L452.49,482.43 L449.65,485.24 L446.79,488.03 L443.93,490.81 L441.05,493.58 L438.15,496.33 L435.25,499.07 L432.33,501.80 L429.40,504.52 L426.46,507.22 L423.51,509.91 L420.54,512.59 L417.57,515.25 L414.58,517.91 L411.59,520.55 L408.59,523.19 L405.58,525.81 L402.56,528.43 L399.53,531.03 L396.50,533.63 L393.45,536.22 L390.40,538.80 L387.35,541.37 L384.29,543.93 L381.22,546.49 L378.14,549.04 L375.06,551.58 L371.97,554.11 L368.87,556.64 L365.77,559.15 L362.67,561.66 L359.55,564.17 L356.43,566.66 L353.30,569.14 L350.17,571.62 L347.03,574.08 L343.88,576.54 L340.72,578.99 L337.55,581.42 L334.38,583.85 L331.19,586.26 L328.00,588.65 L324.79,591.04 L321.58,593.41 L318.35,595.76 L315.11,598.10 L311.86,600.42 L308.60,602.73 L305.32,605.01 L302.04,607.28 L298.74,609.53 L295.42,611.76 L292.10,613.97 L288.76,616.17 L285.40,618.34 L282.04,620.49 L278.66,622.62 L275.27,624.73 L271.87,626.82 L268.45,628.89 L265.02,630.94 L261.58,632.97 L258.13,634.98 L254.67,636.97 L251.19,638.94 L247.71,640.90 L244.22,642.84 L240.72,644.76 L237.21,646.67 L233.69,648.56 L230.17,650.45 L226.64,652.32 L223.11,654.18 L219.57,656.03 L216.03,657.88 L212.48,659.73 L208.94,661.57 L205.40,663.41 L201.85,665.25 L198.31,667.10 L194.78,668.96 L191.24,670.83 L187.72,672.70 L184.20,674.59Z" fill="#9400d0" fill-opacity="0.28" stroke="none" shape-rendering="crispEdges"/>
<path d="M184.20,668.14 L187.21,665.53 L190.26,662.96 L193.35,660.44 L196.46,657.95 L199.60,655.49 L202.76,653.06 L205.93,650.65 L209.12,648.25 L212.30,645.86 L215.49,643.46 L218.68,641.07 L221.85,638.66 L225.02,636.24 L228.17,633.80 L231.30,631.33 L234.42,628.84 L237.51,626.33 L240.58,623.79 L243.63,621.21 L246.64,618.61 L249.63,615.98 L252.60,613.31 L255.53,610.61 L258.44,607.89 L261.32,605.13 L264.17,602.35 L266.50,600.03 L269.30,597.19 L272.07,594.33 L274.81,591.44 L277.53,588.52 L280.22,585.59 L282.89,582.63 L285.54,579.65 L288.17,576.65 L290.77,573.63 L293.35,570.59 L295.91,567.53 L298.45,564.46 L300.98,561.38 L303.48,558.28 L305.97,555.17 L308.45,552.04 L310.91,548.91 L313.36,545.76 L315.79,542.60 L318.21,539.44 L320.62,536.26 L323.01,533.07 L325.39,529.87 L327.75,526.66 L330.10,523.44 L332.43,520.21 L334.73,516.96 L337.02,513.69 L339.28,510.41 L341.51,507.10 L343.72,503.78 L345.89,500.44 L348.03,497.08 L350.14,493.70 L352.21,490.29 L354.25,486.87 L356.26,483.42 L358.24,479.96 L360.19,476.49 L362.11,473.00 L364.01,469.49 L365.90,465.98 L367.77,462.46 L369.63,458.93 L371.48,455.41 L373.34,451.88 L375.19,448.35 L377.06,444.83 L378.94,441.31 L380.83,437.81 L382.74,434.31 L384.67,430.82 L386.61,427.33 L388.55,423.85 L390.50,420.38 L392.44,416.89 L394.36,413.40 L396.28,409.91 L398.17,406.40 L400.04,402.88 L401.89,399.35 L403.72,395.81 L405.52,392.25 L407.30,388.68 L409.05,385.10 L410.78,381.51 L412.48,377.91 L414.16,374.29 L415.83,370.67 L417.47,367.04 L419.09,363.40 L420.70,359.75 L422.30,356.10 L423.87,352.44 L425.44,348.77 L426.99,345.10 L428.52,341.42 L430.05,337.74 L431.56,334.05 L433.06,330.36 L434.55,326.66 L436.03,322.96 L437.49,319.25 L438.95,315.54 L440.40,311.83 L441.84,308.11 L443.26,304.39 L444.68,300.66 L446.09,296.93 L447.49,293.20 L448.88,289.46 L450.27,285.73 L451.64,281.99 L453.01,278.24 L454.37,274.49 L455.72,270.74 L457.07,266.99 L458.40,263.24 L459.73,259.48 L461.06,255.72 L462.37,251.96 L463.68,248.19 L464.99,244.43 L466.29,240.66 L467.58,236.89 L468.86,233.11 L470.14,229.34 L471.42,225.56 L472.69,221.78 L473.95,218.00 L475.21,214.22 L476.46,210.44 L477.71,206.65 L478.95,202.86 L480.18,199.07 L481.41,195.28 L482.64,191.49 L483.86,187.69 L485.07,183.90 L486.28,180.10 L487.49,176.30 L488.69,172.50 L489.88,168.69 L491.06,164.89 L492.24,161.08 L493.42,157.27 L494.59,153.46 L495.75,149.65 L496.91,145.83 L498.06,142.02 L499.20,138.20 L500.34,134.38 L501.47,130.56 L502.60,126.73 L503.71,122.91 L504.82,119.08 L505.93,115.25 L507.02,111.41 L508.11,107.58 L509.20,103.74 L510.27,99.91 L511.34,96.07 L512.40,92.22 L513.40,92.22 L512.34,96.07 L511.27,99.91 L510.20,103.74 L509.11,107.58 L508.02,111.41 L506.93,115.25 L505.82,119.08 L504.71,122.91 L503.60,126.73 L502.47,130.56 L501.34,134.38 L500.20,138.20 L499.06,142.02 L497.91,145.83 L496.75,149.65 L495.59,153.46 L494.42,157.27 L493.24,161.08 L492.06,164.89 L490.88,168.69 L489.69,172.50 L488.49,176.30 L487.28,180.10 L486.07,183.90 L484.86,187.69 L483.64,191.49 L482.41,195.28 L481.18,199.07 L479.95,202.86 L478.71,206.65 L477.46,210.44 L476.21,214.22 L474.95,218.00 L473.69,221.78 L472.42,225.56 L471.14,229.34 L469.86,233.11 L468.58,236.89 L467.29,240.66 L465.99,244.43 L464.68,248.19 L463.37,251.96 L462.06,255.72 L460.73,259.48 L459.40,263.24 L458.07,266.99 L456.72,270.74 L455.37,274.49 L454.01,278.24 L452.64,281.99 L451.27,285.73 L449.88,289.46 L448.49,293.20 L447.09,296.93 L445.68,300.66 L444.26,304.39 L442.84,308.11 L441.40,311.83 L439.95,315.54 L438.49,319.25 L437.03,322.96 L435.55,326.66 L434.06,330.36 L432.56,334.05 L431.05,337.74 L429.52,341.42 L427.99,345.10 L426.44,348.77 L424.87,352.44 L423.30,356.10 L421.70,359.75 L420.09,363.40 L418.47,367.04 L416.83,370.67 L415.16,374.29 L413.48,377.91 L411.78,381.51 L410.05,385.10 L408.30,388.68 L406.52,392.25 L404.72,395.81 L402.89,399.35 L401.04,402.88 L399.17,406.40 L397.28,409.91 L395.36,413.40 L393.44,416.89 L391.50,420.38 L389.55,423.85 L387.61,427.33 L385.67,430.82 L383.74,434.31 L381.83,437.81 L379.94,441.31 L378.06,444.83 L376.19,448.35 L374.34,451.88 L372.48,455.41 L370.63,458.93 L368.77,462.46 L366.90,465.98 L365.01,469.49 L363.11,473.00 L361.19,476.49 L359.24,479.96 L357.26,483.42 L355.25,486.87 L353.21,490.29 L351.14,493.70 L349.03,497.08 L346.89,500.44 L344.72,503.78 L342.51,507.10 L340.28,510.41 L338.02,513.69 L335.73,516.96 L333.43,520.21 L331.10,523.44 L328.75,526.66 L326.39,529.87 L324.01,533.07 L321.62,536.26 L319.21,539.44 L316.79,542.60 L314.36,545.76 L311.91,548.91 L309.45,552.04 L306.97,555.17 L304.48,558.28 L301.98,561.38 L299.45,564.46 L296.91,567.53 L294.35,570.59 L291.77,573.63 L289.17,576.65 L286.54,579.65 L283.89,582.63 L281.22,585.59 L278.53,588.52 L275.81,591.44 L273.07,594.33 L270.30,597.19 L267.50,600.03 L264.17,603.35 L261.32,606.13 L258.44,608.89 L255.53,611.61 L252.60,614.31 L249.63,616.98 L246.64,619.61 L243.63,622.21 L240.58,624.79 L237.51,627.33 L234.42,629.84 L231.30,632.33 L228.17,634.80 L225.02,637.24 L221.85,639.66 L218.68,642.07 L215.49,644.46 L212.30,646.86 L209.12,649.25 L205.93,651.65 L202.76,654.06 L199.60,656.49 L196.46,658.95 L193.35,661.44 L190.26,663.96 L187.21,666.53 L184.20,669.14Z" fill="#ff6400" fill-opacity="0.28" stroke="none" shape-rendering="crispEdges"/>
<g stroke="#000000" fill="none">
<path stroke-width="1" stroke-opacity="0.3" shape-rendering="crispEdges" d="M177.29,700.30 V701.10 M171.39,700.30 H183.19 M171.39,701.10 H183.19"/>
<circle cx="177.29" cy="700.70" r="5.4" stroke-width="1.1"/>
<path stroke-width="1" stroke-opacity="0.3" shape-rendering="crispEdges" d="M256.61,690.50 V691.30 M250.71,690.50 H262.51 M250.71,691.30 H262.51"/>
<circle cx="256.61" cy="690.90" r="5.4" stroke-width="1.1"/>
<path stroke-width="1" stroke-opacity="0.3" shape-rendering="crispEdges" d="M335.93,684.60 V685.40 M330.03,684.60 H341.83 M330.03,685.40 H341.83"/>
<circle cx="335.93" cy="685.00" r="5.4" stroke-width="1.1"/>
<path stroke-width="1" stroke-opacity="0.3" shape-rendering="crispEdges" d="M415.25,679.80 V680.60 M409.35,679.80 H421.15 M409.35,680.60 H421.15"/>
<circle cx="415.25" cy="680.20" r="5.4" stroke-width="1.1"/>
<path stroke-width="1" stroke-opacity="0.3" shape-rendering="crispEdges" d="M494.57,676.20 V677.00 M488.67,676.20 H500.47 M488.67,677.00 H500.47"/>
<circle cx="494.57" cy="676.60" r="5.4" stroke-width="1.1"/>
</g>
<g stroke="#ff00ff" fill="none">
<path stroke-width="1" stroke-opacity="0.3" shape-rendering="crispEdges" d="M177.29,691.90 V694.90 M171.39,691.90 H183.19 M171.39,694.90 H183.19"/>
<circle cx="177.29" cy="693.40" r="6.6" stroke-width="1.1"/>
<path stroke-width="1" stroke-opacity="0.3" shape-rendering="crispEdges" d="M256.61,680.30 V682.30 M250.71,680.30 H262.51 M250.71,682.30 H262.51"/>
<circle cx="256.61" cy="681.30" r="6.6" stroke-width="1.1"/>
<path stroke-width="1" stroke-opacity="0.3" shape-rendering="crispEdges" d="M335.93,667.30 V669.30 M330.03,667.30 H341.83 M330.03,669.30 H341.83"/>
<circle cx="335.93" cy="668.30" r="6.6" stroke-width="1.1"/>
<path stroke-width="1" stroke-opacity="0.3" shape-rendering="crispEdges" d="M415.25,660.00 V662.00 M409.35,660.00 H421.15 M409.35,662.00 H421.15"/>
<circle cx="415.25" cy="661.00" r="6.6" stroke-width="1.1"/>
<path stroke-width="1" stroke-opacity="0.3" shape-rendering="crispEdges" d="M494.57,654.70 V655.90 M488.67,654.70 H500.47 M488.67,655.90 H500.47"/>
<circle cx="494.57" cy="655.30" r="6.6" stroke-width="1.1"/>
</g>
<g stroke="#009632" fill="none">
<path stroke-width="1" stroke-opacity="0.3" shape-rendering="crispEdges" d="M177.29,685.80 V688.80 M171.39,685.80 H183.19 M171.39,688.80 H183.19"/>
<circle cx="177.29" cy="687.30" r="6.6" stroke-width="1.1"/>
<path stroke-width="1" stroke-opacity="0.3" shape-rendering="crispEdges" d="M256.61,666.30 V668.50 M250.71,666.30 H262.51 M250.71,668.50 H262.51"/>
<circle cx="256.61" cy="667.40" r="6.6" stroke-width="1.1"/>
<path stroke-width="1" stroke-opacity="0.3" shape-rendering="crispEdges" d="M335.93,650.10 V652.30 M330.03,650.10 H341.83 M330.03,652.30 H341.83"/>
<circle cx="335.93" cy="651.20" r="6.6" stroke-width="1.1"/>
<path stroke-width="1" stroke-opacity="0.3" shape-rendering="crispEdges" d="M415.25,631.20 V634.00 M409.35,631.20 H421.15 M409.35,634.00 H421.15"/>
<circle cx="415.25" cy="632.60" r="6.6" stroke-width="1.1"/>
<path stroke-width="1" stroke-opacity="0.3" shape-rendering="crispEdges" d="M494.57,619.90 V621.50 M488.67,619.90 H500.47 M488.67,621.50 H500.47"/>
<circle cx="494.57" cy="620.70" r="6.6" stroke-width="1.1"/>
</g>
<g stroke="#0000ff" fill="none">
<path stroke-width="1" stroke-opacity="0.3" shape-rendering="crispEdges" d="M177.29,681.10 V687.10 M171.39,681.10 H183.19 M171.39,687.10 H183.19"/>
<circle cx="177.29" cy="684.10" r="5.4" stroke-width="1.1"/>
<path stroke-width="1" stroke-opacity="0.3" shape-rendering="crispEdges" d="M256.61,651.90 V657.70 M250.71,651.90 H262.51 M250.71,657.70 H262.51"/>
<circle cx="256.61" cy="654.80" r="5.4" stroke-width="1.1"/>
<path stroke-width="1" stroke-opacity="0.3" shape-rendering="crispEdges" d="M335.93,627.20 V633.20 M333.03,627.20 H338.83 M333.03,633.20 H338.83"/>
<circle cx="335.93" cy="630.20" r="5.4" stroke-width="1.1"/>
<path stroke-width="1" stroke-opacity="0.3" shape-rendering="crispEdges" d="M415.25,603.50 V607.90 M412.85,603.50 H417.65 M412.85,607.90 H417.65"/>
<circle cx="415.25" cy="605.70" r="5.4" stroke-width="1.1"/>
<path stroke-width="1" stroke-opacity="0.3" shape-rendering="crispEdges" d="M494.57,567.30 V576.50 M488.67,567.30 H500.47 M488.67,576.50 H500.47"/>
<circle cx="494.57" cy="571.90" r="5.4" stroke-width="1.1"/>
<path stroke-width="1" stroke-opacity="0.3" shape-rendering="crispEdges" d="M573.89,535.15 V546.45 M567.99,535.15 H579.79 M567.99,546.45 H579.79"/>
<circle cx="573.89" cy="540.80" r="5.4" stroke-width="1.1"/>
</g>
<g stroke="#ff0000" fill="none">
<path stroke-width="1" stroke-opacity="0.3" shape-rendering="crispEdges" d="M177.29,675.90 V685.90 M171.39,675.90 H183.19 M171.39,685.90 H183.19"/>
<circle cx="177.29" cy="680.90" r="5.4" stroke-width="1.1"/>
<path stroke-width="1" stroke-opacity="0.3" shape-rendering="crispEdges" d="M256.61,640.20 V650.60 M250.71,640.20 H262.51 M250.71,650.60 H262.51"/>
<circle cx="256.61" cy="645.40" r="5.4" stroke-width="1.1"/>
<path stroke-width="1" stroke-opacity="0.3" shape-rendering="crispEdges" d="M335.93,601.35 V612.65 M330.03,601.35 H341.83 M330.03,612.65 H341.83"/>
<circle cx="335.93" cy="607.00" r="5.4" stroke-width="1.1"/>
<path stroke-width="1" stroke-opacity="0.3" shape-rendering="crispEdges" d="M415.25,561.30 V573.50 M409.35,561.30 H421.15 M409.35,573.50 H421.15"/>
<circle cx="415.25" cy="567.40" r="5.4" stroke-width="1.1"/>
<path stroke-width="1" stroke-opacity="0.3" shape-rendering="crispEdges" d="M494.57,513.10 V524.30 M488.67,513.10 H500.47 M488.67,524.30 H500.47"/>
<circle cx="494.57" cy="518.70" r="5.4" stroke-width="1.1"/>
</g>
<g stroke="#9400d0" fill="none">
<path stroke-width="1" stroke-opacity="0.3" shape-rendering="crispEdges" d="M177.29,669.80 V685.40 M171.39,669.80 H183.19 M171.39,685.40 H183.19"/>
<circle cx="177.29" cy="677.60" r="6.6" stroke-width="1.1"/>
<path stroke-width="1" stroke-opacity="0.3" shape-rendering="crispEdges" d="M256.61,625.30 V640.10 M250.71,625.30 H262.51 M250.71,640.10 H262.51"/>
<circle cx="256.61" cy="632.70" r="6.6" stroke-width="1.1"/>
<path stroke-width="1" stroke-opacity="0.3" shape-rendering="crispEdges" d="M335.93,570.35 V586.45 M330.03,570.35 H341.83 M330.03,586.45 H341.83"/>
<circle cx="335.93" cy="578.40" r="6.6" stroke-width="1.1"/>
<path stroke-width="1" stroke-opacity="0.3" shape-rendering="crispEdges" d="M415.25,509.40 V526.60 M409.35,509.40 H421.15 M409.35,526.60 H421.15"/>
<circle cx="415.25" cy="518.00" r="6.6" stroke-width="1.1"/>
<path stroke-width="1" stroke-opacity="0.3" shape-rendering="crispEdges" d="M494.57,432.20 V449.00 M488.67,432.20 H500.47 M488.67,449.00 H500.47"/>
<circle cx="494.57" cy="440.60" r="6.6" stroke-width="1.1"/>
<path stroke-width="1" stroke-opacity="0.3" shape-rendering="crispEdges" d="M653.21,204.30 V220.30 M647.31,204.30 H659.11 M647.31,220.30 H659.11"/>
<circle cx="653.21" cy="212.30" r="6.6" stroke-width="1.1"/>
</g>
<g stroke="#ff6400" fill="none">
<path stroke-width="1" stroke-opacity="0.3" shape-rendering="crispEdges" d="M177.29,665.30 V680.70 M171.39,665.30 H183.19 M171.39,680.70 H183.19"/>
<circle cx="177.29" cy="673.00" r="6.6" stroke-width="1.1"/>
<path stroke-width="1" stroke-opacity="0.3" shape-rendering="crispEdges" d="M256.61,598.50 V615.10 M250.71,598.50 H262.51 M250.71,615.10 H262.51"/>
<circle cx="256.61" cy="606.80" r="6.6" stroke-width="1.1"/>
<path stroke-width="1" stroke-opacity="0.3" shape-rendering="crispEdges" d="M335.93,511.50 V527.30 M330.03,511.50 H341.83 M330.03,527.30 H341.83"/>
<circle cx="335.93" cy="519.40" r="6.6" stroke-width="1.1"/>
<path stroke-width="1" stroke-opacity="0.3" shape-rendering="crispEdges" d="M415.25,364.20 V380.40 M409.35,364.20 H421.15 M409.35,380.40 H421.15"/>
<circle cx="415.25" cy="372.30" r="6.6" stroke-width="1.1"/>
<path stroke-width="1" stroke-opacity="0.3" shape-rendering="crispEdges" d="M494.57,147.40 V164.40 M488.67,147.40 H500.47 M488.67,164.40 H500.47"/>
<circle cx="494.57" cy="155.90" r="6.6" stroke-width="1.1"/>
</g>
<path d="M712.15,691.45 L724.70,664.20 L736.15,691.45 Z M714.50,689.70 L731.20,689.70 L723.50,670.30 Z" fill="#000000" fill-rule="evenodd"/>
<path d="M738.30,676.50 h20.2 v3.1 h-20.2 Z M738.30,683.60 h20.2 v3.1 h-20.2 Z" fill="#000000"/>
<text transform="translate(759.55,691.30) scale(1,1.03)" font-size="41.8" text-anchor="start" fill="#000000" stroke="#000000" stroke-width="0.38"><tspan dx="0.92">1</tspan><tspan dx="-0.92"></tspan></text><rect x="762.14" y="686.87" width="8.69" height="6.13" fill="#fff"/><rect x="774.81" y="686.87" width="8.86" height="6.13" fill="#fff"/>
<path d="M709.15,648.25 L721.70,621.00 L733.15,648.25 Z M711.50,646.50 L728.20,646.50 L720.50,627.10 Z" fill="#ff00ff" fill-rule="evenodd"/>
<path d="M735.30,633.30 h20.2 v3.1 h-20.2 Z M735.30,640.40 h20.2 v3.1 h-20.2 Z" fill="#ff00ff"/>
<text transform="translate(756.55,648.10) scale(1,1.03)" font-size="41.8" text-anchor="start" fill="#ff00ff" stroke="#ff00ff" stroke-width="0.38"><tspan dx="0.92">1</tspan><tspan dx="-0.92">.<tspan dx="0.92">1</tspan><tspan dx="-0.92"></tspan></tspan></text><rect x="759.14" y="643.67" width="8.69" height="6.13" fill="#fff"/><rect x="771.81" y="643.67" width="8.86" height="6.13" fill="#fff"/><rect x="794.00" y="643.67" width="8.69" height="6.13" fill="#fff"/><rect x="806.67" y="643.67" width="8.86" height="6.13" fill="#fff"/>
<path d="M709.15,588.55 L721.70,561.30 L733.15,588.55 Z M711.50,586.80 L728.20,586.80 L720.50,567.40 Z" fill="#009632" fill-rule="evenodd"/>
<path d="M735.30,573.60 h20.2 v3.1 h-20.2 Z M735.30,580.70 h20.2 v3.1 h-20.2 Z" fill="#009632"/>
<text transform="translate(756.55,588.40) scale(1,1.03)" font-size="41.8" text-anchor="start" fill="#009632" stroke="#009632" stroke-width="0.38"><tspan dx="0.92">1</tspan><tspan dx="-0.92">.2</tspan></text><rect x="759.14" y="583.97" width="8.69" height="6.13" fill="#fff"/><rect x="771.81" y="583.97" width="8.86" height="6.13" fill="#fff"/>
<path d="M701.35,481.65 L713.90,454.40 L725.35,481.65 Z M703.70,479.90 L720.40,479.90 L712.70,460.50 Z" fill="#0000ff" fill-rule="evenodd"/>
<path d="M727.50,466.70 h20.2 v3.1 h-20.2 Z M727.50,473.80 h20.2 v3.1 h-20.2 Z" fill="#0000ff"/>
<text transform="translate(748.75,481.50) scale(1,1.03)" font-size="41.8" text-anchor="start" fill="#0000ff" stroke="#0000ff" stroke-width="0.38"><tspan dx="0.92">1</tspan><tspan dx="-0.92">.28</tspan></text><rect x="751.34" y="477.07" width="8.69" height="6.13" fill="#fff"/><rect x="764.01" y="477.07" width="8.86" height="6.13" fill="#fff"/>
<path d="M691.25,362.35 L703.80,335.10 L715.25,362.35 Z M693.60,360.60 L710.30,360.60 L702.60,341.20 Z" fill="#ff0000" fill-rule="evenodd"/>
<path d="M717.40,347.40 h20.2 v3.1 h-20.2 Z M717.40,354.50 h20.2 v3.1 h-20.2 Z" fill="#ff0000"/>
<text transform="translate(738.65,362.20) scale(1,1.03)" font-size="41.8" text-anchor="start" fill="#ff0000" stroke="#ff0000" stroke-width="0.38"><tspan dx="0.92">1</tspan><tspan dx="-0.92">.34</tspan></text><rect x="741.24" y="357.77" width="8.69" height="6.13" fill="#fff"/><rect x="753.91" y="357.77" width="8.86" height="6.13" fill="#fff"/>
<path d="M702.85,125.35 L715.40,98.10 L726.85,125.35 Z M705.20,123.60 L721.90,123.60 L714.20,104.20 Z" fill="#9400d0" fill-rule="evenodd"/>
<path d="M729.00,110.40 h20.2 v3.1 h-20.2 Z M729.00,117.50 h20.2 v3.1 h-20.2 Z" fill="#9400d0"/>
<text transform="translate(750.25,125.20) scale(1,1.03)" font-size="41.8" text-anchor="start" fill="#9400d0" stroke="#9400d0" stroke-width="0.38"><tspan dx="0.92">1</tspan><tspan dx="-0.92">.4</tspan></text><rect x="752.84" y="120.77" width="8.69" height="6.13" fill="#fff"/><rect x="765.51" y="120.77" width="8.86" height="6.13" fill="#fff"/>
<path d="M489.95,77.75 L502.50,50.50 L513.95,77.75 Z M492.30,76.00 L509.00,76.00 L501.30,56.60 Z" fill="#ff6400" fill-rule="evenodd"/>
<path d="M516.10,62.80 h20.2 v3.1 h-20.2 Z M516.10,69.90 h20.2 v3.1 h-20.2 Z" fill="#ff6400"/>
<text transform="translate(537.35,77.60) scale(1,1.03)" font-size="41.8" text-anchor="start" fill="#ff6400" stroke="#ff6400" stroke-width="0.38"><tspan dx="0.92">1</tspan><tspan dx="-0.92">.5</tspan></text><rect x="539.94" y="73.17" width="8.69" height="6.13" fill="#fff"/><rect x="552.61" y="73.17" width="8.86" height="6.13" fill="#fff"/>
</svg></body></html>
